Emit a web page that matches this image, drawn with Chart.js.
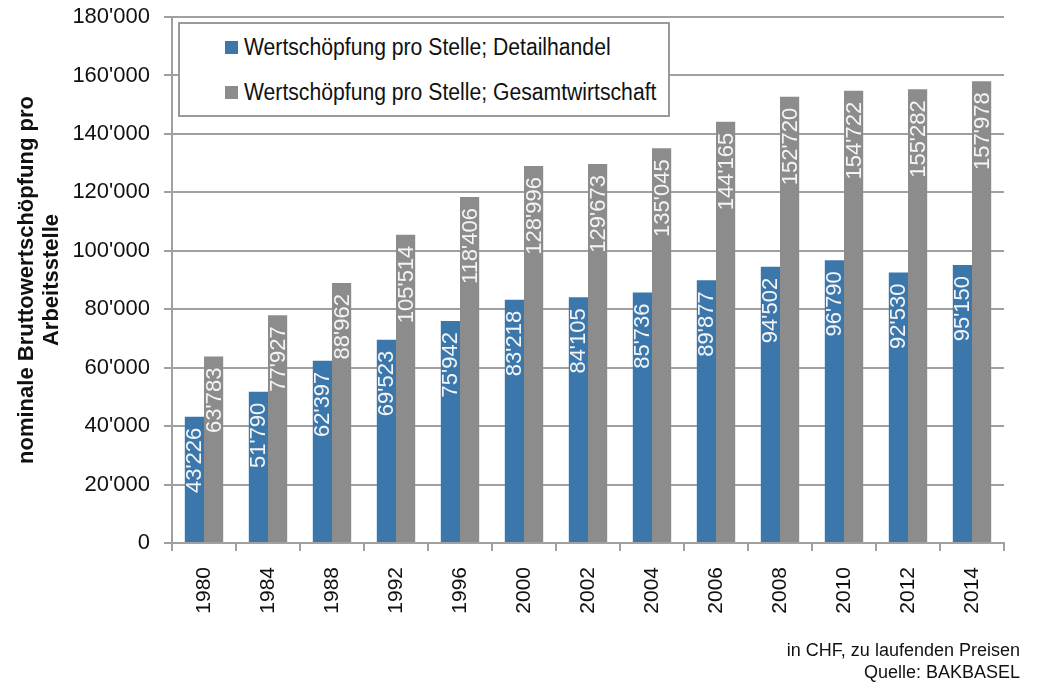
<!DOCTYPE html>
<html>
<head>
<meta charset="utf-8">
<script src="https://cdn.jsdelivr.net/npm/chart.js@4/dist/chart.umd.min.js"></script>
<style>
  body { margin: 0; background: #fff; }
  #wrap { position: relative; width: 1038px; height: 687px; }
  #legend {
    position: absolute; left: 178px; top: 22px; width: 488px; height: 91px;
    border: 2px solid #9a9a9a; background: #fff;
    font-family: 'Liberation Sans', Arial, sans-serif; font-size: 23px; color: #111;
  }
  .item { position: absolute; left: 45px; display: flex; align-items: center; white-space: nowrap; }
  .item span.box { width: 13px; height: 13px; margin-right: 6px; display: inline-block; }
  .item span.txt { display: inline-block; transform: scaleX(0.92); transform-origin: left center; }
  #note {
    position: absolute; right: 18px; top: 639px; text-align: right;
    font-family: 'Liberation Sans', Arial, sans-serif; font-size: 18px; line-height: 22px; color: #111;
  }
</style>
</head>
<body>
<div id="wrap">
  <canvas id="chart" width="1038" height="687"></canvas>
  <div id="legend">
    <div class="item" style="top:10px"><span class="box" style="background:#3b77ab"></span><span class="txt">Wertschöpfung pro Stelle; Detailhandel</span></div>
    <div class="item" style="top:55px"><span class="box" style="background:#8c8c8c"></span><span class="txt">Wertschöpfung pro Stelle; Gesamtwirtschaft</span></div>
  </div>
  <div id="note">in CHF, zu laufenden Preisen<br>Quelle: BAKBASEL</div>
</div>
<script>
const years = ['1980', '1984', '1988', '1992', '1996', '2000', '2002', '2004', '2006', '2008', '2010', '2012', '2014'];
const detailhandel = [43226, 51790, 62397, 69523, 75942, 83218, 84105, 85736, 89877, 94502, 96790, 92530, 95150];
const gesamtwirtschaft = [63783, 77927, 88962, 105514, 118406, 128996, 129673, 135045, 144165, 152720, 154722, 155282, 157978];

const axisColor = '#a0a0a0';

// swiss style thousands separator
function fmt(v) {
  return String(v).replace(/\B(?=(\d{3})+(?!\d))/g, "'");
}

// rotated value labels inside the bars
const barLabels = {
  id: 'barLabels',
  afterDatasetsDraw(chart) {
    const ctx = chart.ctx;
    ctx.save();
    ctx.font = '22px "Liberation Sans", Arial, sans-serif';
    ctx.fillStyle = '#f4f4f4';
    ctx.textAlign = 'right';
    ctx.textBaseline = 'middle';
    chart.data.datasets.forEach((ds, i) => {
      chart.getDatasetMeta(i).data.forEach((bar, j) => {
        ctx.save();
        ctx.translate(bar.x, bar.y + 11);
        ctx.rotate(-Math.PI / 2);
        ctx.fillText(fmt(ds.data[j]), 0, 1);
        ctx.restore();
      });
    });
    ctx.restore();
  }
};

new Chart(document.getElementById('chart'), {
  type: 'bar',
  data: {
    labels: years,
    datasets: [
      {
        label: 'Wertschöpfung pro Stelle; Detailhandel',
        data: detailhandel,
        backgroundColor: '#3b77ab',
        categoryPercentage: 0.6,
        barPercentage: 1
      },
      {
        label: 'Wertschöpfung pro Stelle; Gesamtwirtschaft',
        data: gesamtwirtschaft,
        backgroundColor: '#8c8c8c',
        categoryPercentage: 0.6,
        barPercentage: 1
      }
    ]
  },
  options: {
    responsive: false,
    animation: false,
    layout: { padding: { left: 0, top: 17, right: 34, bottom: 44 } },
    scales: {
      x: {
        offset: true,
        grid: { offset: true, drawOnChartArea: false, tickLength: 8, color: axisColor, lineWidth: 2 },
        border: { color: axisColor, width: 2 },
        ticks: {
          maxRotation: 90, minRotation: 90, padding: 16,
          color: '#111', font: { family: '"Liberation Sans", Arial, sans-serif', size: 21 }
        },
        afterFit(scale) { scale.height = 100; scale.paddingLeft = 0; scale.paddingRight = 0; }
      },
      y: {
        min: 0,
        max: 180000,
        grid: { tickLength: 8, color: axisColor, lineWidth: 2 },
        border: { color: axisColor, width: 2 },
        ticks: {
          stepSize: 20000, padding: 14,
          color: '#111', font: { family: '"Liberation Sans", Arial, sans-serif', size: 22 },
          callback: v => fmt(v)
        },
        title: {
          display: true,
          text: ['nominale Bruttowertschöpfung pro', 'Arbeitsstelle'],
          color: '#111',
          font: { family: '"Liberation Sans", Arial, sans-serif', size: 22, weight: 'bold', lineHeight: 1.15 },
          padding: { top: 14, bottom: 0 }
        },
        afterFit(scale) { scale.width = 172; scale.paddingTop = 0; scale.paddingBottom = 0; }
      }
    },
    plugins: {
      legend: { display: false },
      tooltip: { enabled: false }
    }
  },
  plugins: [barLabels]
});
</script>
</body>
</html>
